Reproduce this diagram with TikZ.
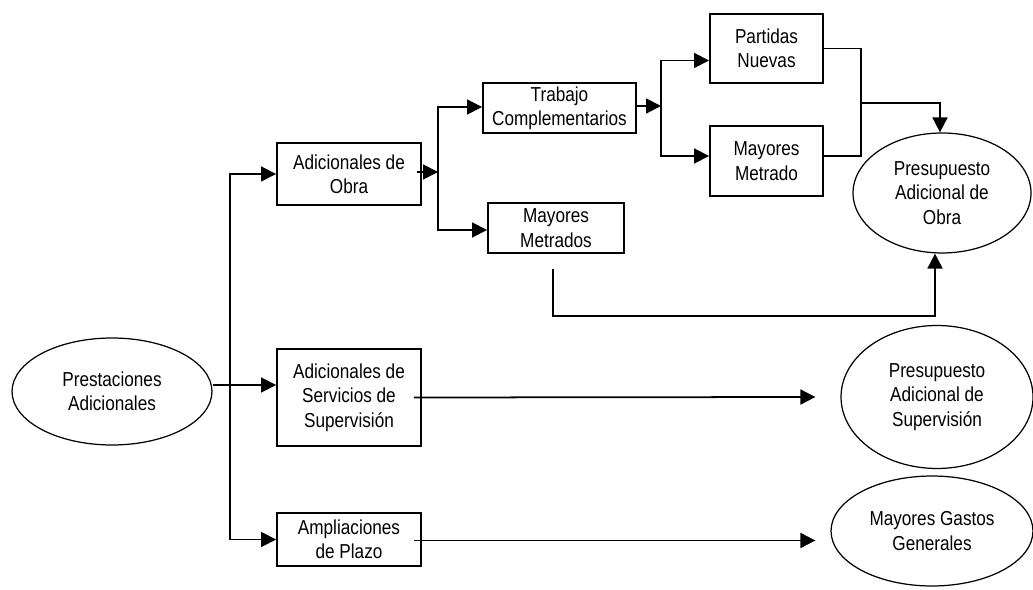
\documentclass[tikz,border=0pt]{standalone}
\usepackage{fontspec}
\setmainfont{Liberation Sans}[FakeStretch=0.85]
\usetikzlibrary{shapes.geometric,arrows.meta,calc}
\newcommand{\flowFont}[0]{\fontsize{11.5}{13.9}\selectfont}
\newcommand{\boxLine}[0]{1.1pt}

\begin{document}
\begin{tikzpicture}[x=0.02cm, y=-0.02cm]
  \tikzset{every node/.style={align=center,font=\flowFont},
    caja/.style={draw, rectangle, line width=\boxLine, inner sep=2pt},
    elipse/.style={draw, ellipse, line width=0.7pt, inner sep=0pt},
    flecha/.style={line width=1pt, -{Triangle[length=8.5pt,width=8.5pt]}},
    linea/.style={line width=1pt}}
  \useasboundingbox (0,0) rectangle (1033,590);
  \node[elipse, minimum width=4.0cm, minimum height=2.14cm] (prest) at (112,391.5) {Prestaciones\\Adicionales};
  \node[caja, minimum width=2.88cm, minimum height=1.24cm] (adObra) at (349,174) {Adicionales de\\Obra};
  \node[caja, minimum width=2.88cm, minimum height=1.94cm] (adServ) at (349,397.5) {Adicionales de\\Servicios de\\Supervisión};
  \node[caja, minimum width=2.88cm, minimum height=1.06cm] (ampl) at (349,539.5) {Ampliaciones\\de Plazo};
  \node[caja, minimum width=3.06cm, minimum height=1.0cm] (trab) at (559.5,108) {Trabajo\\Complementarios};
  \node[caja, minimum width=2.72cm, minimum height=1.0cm] (mayMetrados) at (556,228) {Mayores\\Metrados};
  \node[caja, minimum width=2.26cm, minimum height=1.38cm] (partidas) at (766.5,48.5) {Partidas\\Nuevas};
  \node[caja, minimum width=2.26cm, minimum height=1.40cm] (mayMetrado) at (766.5,161) {Mayores\\Metrado};
  \node[elipse, minimum width=3.56cm, minimum height=2.4cm] (pObra) at (942,193) {Presupuesto\\Adicional de\\Obra};
  \node[elipse, minimum width=3.84cm, minimum height=2.86cm] (pSup) at (937,397) {Presupuesto\\Adicional de\\Supervisión};
  \node[elipse, minimum width=4.04cm, minimum height=2.2cm] (gastos) at (932,531) {Mayores Gastos\\Generales};

  \coordinate (trunk) at (230,385);
  \coordinate (obraSplit) at (438,172);
  \coordinate (trabSplit) at (661,106);
  \coordinate (join) at (861,103);
  \coordinate (mmLow) at (553,316);

  \draw[flecha] (prest.east |- trunk) -- (adServ.west |- trunk);
  \draw[flecha] (trunk) |- (adObra.west);
  \draw[flecha] (trunk) |- (ampl.west);
  \draw[flecha] ([xshift=-3pt]adObra.east |- obraSplit) -- (obraSplit);
  \draw[flecha] (obraSplit) |- ($(trab.west)+(0,-1)$);
  \draw[flecha] (obraSplit) |- ($(mayMetrados.west)+(0,2)$);
  \draw[flecha] (trab.east |- trabSplit) -- (trabSplit);
  \draw[flecha] (trabSplit) |- ($(partidas.west)+(0,12)$);
  \draw[flecha] (trabSplit) |- ($(mayMetrado.west)+(0,-5)$);
  \draw[linea] (partidas.east) -| (join) |- ($(mayMetrado.east)+(0,-5)$);
  \draw[flecha] (join) -| ($(pObra.north)+(-2,0)$);
  \draw[flecha] ($(mayMetrados.south)+(-3,15)$) -- (mmLow) -| ($(pObra.south)+(-7,0)$);
  \draw[flecha] ($(adServ.east)+(-8,0)$) -- ($(pSup.west)+(-25,0)$);
  \draw[flecha] ($(ampl.east)+(-8,1)$) -- ($(gastos.west |- ampl.east)+(-15,1)$);
\end{tikzpicture}
\end{document}
